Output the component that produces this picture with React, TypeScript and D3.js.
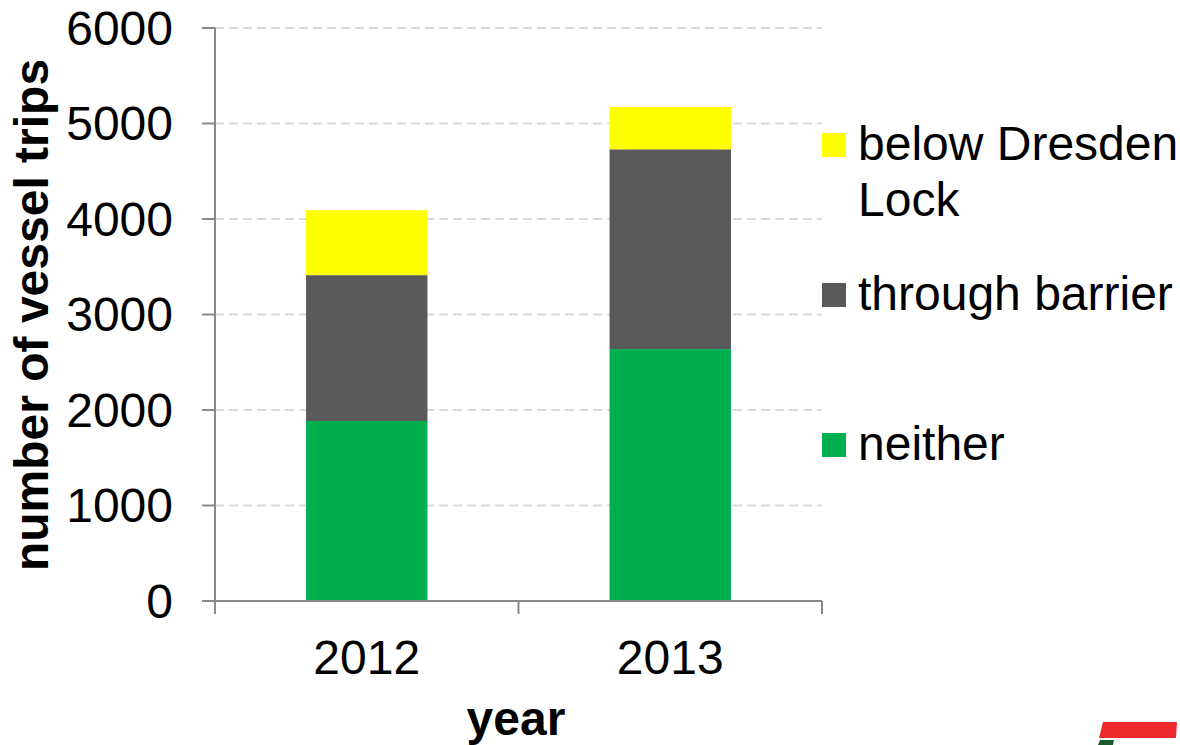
import React from "react";
import * as d3 from "d3";

// Vessel trips per year, split by route category
const years = ["2012", "2013"];
const neither = [1885, 2638];
const throughBarrier = [1527, 2092];
const belowDresdenLock = [680, 443];
const yTicks = [0, 1000, 2000, 3000, 4000, 5000, 6000];

const seriesKeys = ["neither", "through", "below"];
const seriesColors: Record<string, string> = {
  neither: "#00b050",
  through: "#595959",
  below: "#ffff00",
};

const W = 1180;
const H = 745;
const FONT = "'Liberation Sans', Arial, sans-serif";
const FS = 48;

export default function App() {
  const rows = years.map((y, i) => ({
    year: y,
    neither: neither[i],
    through: throughBarrier[i],
    below: belowDresdenLock[i],
  }));

  const x = d3
    .scaleBand<string>()
    .domain(years)
    .range([215, 822])
    .paddingInner(0.6)
    .paddingOuter(0.3);

  const y = d3.scaleLinear().domain([0, 6000]).range([601, 28]);

  const stacked = d3.stack<any>().keys(seriesKeys)(rows);

  const catTicks = [215, 215 + x.step(), 822];

  const legend = [
    { key: "below", lines: ["below Dresden", "Lock"], baseline: 160 },
    { key: "through", lines: ["through barrier"], baseline: 310 },
    { key: "neither", lines: ["neither"], baseline: 460 },
  ];

  return (
    <svg
      width={W}
      height={H}
      style={{ position: "absolute", left: 0, top: 0, background: "#fff" }}
      fontFamily={FONT}
    >
      {/* horizontal gridlines */}
      {yTicks.slice(1).map((t) => (
        <line
          key={"g" + t}
          x1={215}
          x2={822}
          y1={y(t)}
          y2={y(t)}
          stroke="#d9d9d9"
          strokeWidth={2}
          strokeDasharray="9,5"
        />
      ))}

      {/* stacked bars */}
      {stacked.map((s) => (
        <g key={s.key} fill={seriesColors[s.key]}>
          {s.map((d: any) => (
            <rect
              key={d.data.year}
              x={x(d.data.year)}
              width={x.bandwidth()}
              y={y(d[1])}
              height={y(d[0]) - y(d[1])}
            />
          ))}
        </g>
      ))}

      {/* y axis */}
      <line x1={215} x2={215} y1={y(6000)} y2={y(0)} stroke="#898989" strokeWidth={2} />
      {yTicks.map((t) => (
        <g key={"t" + t}>
          <line x1={202} x2={215} y1={y(t)} y2={y(t)} stroke="#898989" strokeWidth={2} />
          <text
            x={173}
            y={y(t)}
            dy="0.35em"
            textAnchor="end"
            fontSize={FS}
            fill="#000"
          >
            {t}
          </text>
        </g>
      ))}

      {/* x axis */}
      <line x1={215} x2={822} y1={y(0)} y2={y(0)} stroke="#898989" strokeWidth={2} />
      {catTicks.map((cx, i) => (
        <line key={"c" + i} x1={cx} x2={cx} y1={y(0)} y2={y(0) + 13} stroke="#898989" strokeWidth={2} />
      ))}
      {years.map((yr) => (
        <text
          key={"l" + yr}
          x={(x(yr) ?? 0) + x.bandwidth() / 2}
          y={674}
          textAnchor="middle"
          fontSize={FS}
          fill="#000"
        >
          {yr}
        </text>
      ))}

      {/* axis titles */}
      <text x={516} y={735} textAnchor="middle" fontSize={FS} fontWeight="bold" fill="#000">
        year
      </text>
      <text
        transform="translate(48,315) rotate(-90)"
        textAnchor="middle"
        fontSize={FS}
        fontWeight="bold"
        fill="#000"
      >
        number of vessel trips
      </text>

      {/* legend */}
      {legend.map((l) => (
        <g key={"lg" + l.key}>
          <rect x={822} y={l.baseline - 27} width={24} height={24} fill={seriesColors[l.key]} />
          {l.lines.map((ln, j) => (
            <text key={j} x={858} y={l.baseline + j * 56} fontSize={FS} fill="#000">
              {ln}
            </text>
          ))}
        </g>
      ))}

      {/* corner logo */}
      <polygon points="1103,722 1177,722 1176,738 1099,738" fill="#ee2a2e" />
      <polygon points="1100,740 1114,740 1113,745 1098,745" fill="#1d5a2e" />
    </svg>
  );
}
